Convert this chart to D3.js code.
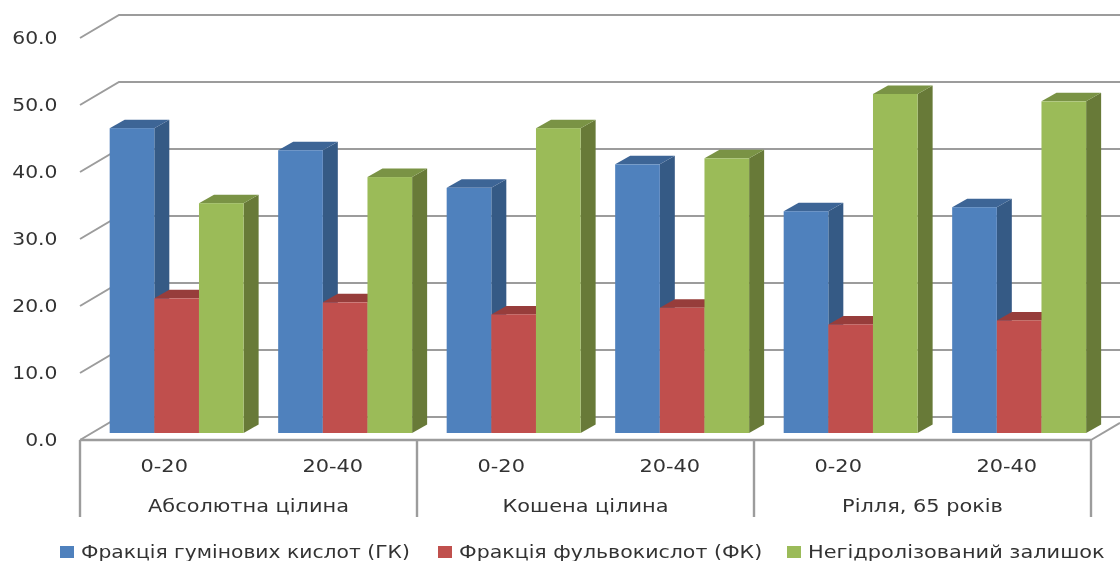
<!DOCTYPE html>
<html>
<head>
<meta charset="utf-8">
<script src="https://cdn.jsdelivr.net/npm/d3@7"></script>
<style>
  html, body { margin: 0; padding: 0; background: #fff; }
  text { font-family: "DejaVu Sans", sans-serif; fill: #333; }
</style>
</head>
<body>
<div id="chart"></div>
<script>
const groups = ['Абсолютна цілина', 'Кошена цілина', 'Рілля, 65 років'];
const depths = ['0-20', '20-40'];
const categories = ['a0', 'a1', 'b0', 'b1', 'c0', 'c1'];
const seriesNames = ['Фракція гумінових кислот (ГК)', 'Фракція фульвокислот (ФК)', 'Негідролізований залишок'];
const humic = [45.5, 42.2, 36.6, 40.1, 33.1, 33.7];
const fulvic = [20.1, 19.5, 17.7, 18.7, 16.2, 16.8];
const residue = [34.3, 38.2, 45.5, 41.0, 50.6, 49.5];
const series = [humic, fulvic, residue];
const yTicks = [0, 10, 20, 30, 40, 50, 60];

const front = ['#4f81bd', '#c0504d', '#9bbb59'];
const top_ = ['#3e6596', '#973e3b', '#7a9345'];
const side = ['#365a85', '#873735', '#677a37'];

const width = 1120, height = 561;
const svg = d3.select('#chart').append('svg')
  .attr('width', width).attr('height', height)
  .style('display', 'block');

const defs = svg.append('defs');
defs.append('filter').attr('id', 'soft')
  .append('feGaussianBlur').attr('stdDeviation', 0.45);
defs.append('filter').attr('id', 'softText')
  .attr('x', '-5%').attr('y', '-20%').attr('width', '110%').attr('height', '140%')
  .append('feGaussianBlur').attr('stdDeviation', 0.45);

const plot = svg.append('g').attr('filter', 'url(#soft)');
const labels = svg.append('g').attr('filter', 'url(#softText)');

const x0 = 80, x1 = 1091;
const y = d3.scaleLinear().domain([0, 60]).range([440, 38]);
const wallDx = 39, wallDy = -23;   // floor depth, front edge to back wall
const barDx = 12, barDy = -7;      // where the bars stand on the floor
const sideDx = 15, sideDy = -8.5;  // depth of a bar

const band = d3.scaleBand().domain(categories)
  .range([x0 + barDx + 0.4, x1 + barDx + 0.4])
  .paddingInner(0.205).paddingOuter(0.1025);
const inner = d3.scaleBand().domain([0, 1, 2])
  .range([0, band.bandwidth()]);

// the reference is a stretched bitmap, so glyphs are wider than the font
function stretch(sel, k) {
  sel.each(function() {
    d3.select(this)
      .attr('lengthAdjust', 'spacingAndGlyphs')
      .attr('textLength', this.getComputedTextLength() * k);
  });
}

// walls
const gridColor = '#9c9c9c';
const grid = plot.append('g').attr('fill', 'none').attr('stroke', gridColor).attr('stroke-width', 2);
yTicks.forEach(t => {
  const yy = y(t);
  grid.append('path').attr('d', `M${x0},${yy}L${x0 + wallDx},${yy + wallDy}L${width},${yy + wallDy}`);
});
// floor
grid.append('path').attr('d', `M${x1},${y(0)}L${width},${y(0) + (width - x1) * wallDy / wallDx}`);
grid.append('path').attr('d', `M${x0},${y(0)}H${x1}`).attr('stroke-width', 2.4);

// category axis separators
const groupEdges = d3.scaleLinear().domain([0, groups.length]).range([x0, x1]);
d3.range(groups.length + 1).forEach(i => {
  grid.append('line')
    .attr('x1', groupEdges(i)).attr('x2', groupEdges(i))
    .attr('y1', y(0)).attr('y2', 517).attr('stroke-width', 2.4);
});

// bars
const base = y(0) + barDy;
const barTop = v => y(v) + barDy;
categories.forEach((c, ci) => {
  const g = plot.append('g');
  series.forEach((vals, si) => {
    const left = band(c) + inner(si);
    const w = inner.bandwidth();
    const t = barTop(vals[ci]);
    g.append('path')
      .attr('fill', side[si])
      .attr('d', `M${left + w},${t}l${sideDx},${sideDy}V${base + sideDy}l${-sideDx},${-sideDy}Z`);
    g.append('path')
      .attr('fill', top_[si])
      .attr('d', `M${left},${t}l${sideDx},${sideDy}h${w}l${-sideDx},${-sideDy}Z`);
    g.append('rect')
      .attr('x', left).attr('y', t)
      .attr('width', w).attr('height', base - t)
      .attr('fill', front[si]);
  });
});

// y axis labels
const yAxis = labels.append('g')
  .attr('transform', `translate(${x0 - 22.5},0)`)
  .call(d3.axisLeft(y).tickValues(yTicks).tickSize(0).tickPadding(0).tickFormat(d3.format('.1f')));
yAxis.select('.domain').remove();
yAxis.selectAll('text').style('font-size', '18px').style('font-family', '"DejaVu Sans", sans-serif').attr('fill', '#333');
stretch(yAxis.selectAll('text'), 1.13);

// category labels
const centerOf = i => (groupEdges(i / 2) + groupEdges((i + 1) / 2)) / 2;
categories.forEach((c, i) => {
  labels.append('text')
    .attr('x', centerOf(i)).attr('y', 472)
    .attr('text-anchor', 'middle').attr('font-size', 18)
    .text(depths[i % 2])
    .call(stretch, 1.16);
});
groups.forEach((g, i) => {
  labels.append('text')
    .attr('x', (groupEdges(i) + groupEdges(i + 1)) / 2).attr('y', 512)
    .attr('text-anchor', 'middle').attr('font-size', 18)
    .text(g)
    .call(stretch, 1.16);
});

// legend
const legendX = [60, 438, 787];
const legendK = [1.127, 1.14, 1.16];
seriesNames.forEach((name, i) => {
  svg.append('rect')
    .attr('x', legendX[i]).attr('y', 546)
    .attr('width', 14).attr('height', 12)
    .attr('fill', front[i]);
  labels.append('text')
    .attr('x', legendX[i] + 21).attr('y', 558)
    .attr('font-size', 18)
    .text(name)
    .call(stretch, legendK[i]);
});
</script>
</body>
</html>
